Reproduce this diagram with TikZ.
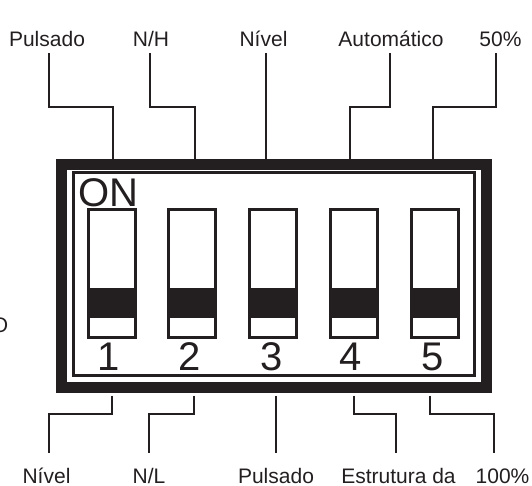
\documentclass[tikz,border=0pt]{standalone}
\usepackage{fontspec}
\setmainfont{Liberation Sans}
\definecolor{ink}{HTML}{231F20}
\tikzset{
    lead/.style={draw=ink, line width=2pt},
    label/.style={inner sep=0, anchor=base, text=ink, font=\fontsize{21}{21}\selectfont},
    bignum/.style={inner sep=0, anchor=base, text=ink, font=\fontsize{40}{40}\selectfont},
    toggle/.style={draw=ink, line width=3pt, fill=white, minimum width=47pt, minimum height=128pt, inner sep=0},
}
\begin{document}
\begin{tikzpicture}[x=1pt, y=-1pt]
    \useasboundingbox (0,0) rectangle (532,485);
    % housing
    \node (outer) [draw=ink, line width=11pt, minimum width=425pt, minimum height=223pt, inner sep=0] at (274,276) {};
    \node (inner) [draw=ink, line width=3.5pt, minimum width=401pt, minimum height=203pt, inner sep=0] at (274,274) {};
    \node (on) [bignum] at (108.5,206) {ON};
    % switches
    \foreach \name/\x/\txt/\numx in {s1/112/1/109, s2/192/2/190, s3/273/3/272, s4/354/4/351, s5/434.5/5/433} {
        \node (\name) [toggle] at (\x,273) {};
        \fill[ink] (\x-24.5,287.5) rectangle (\x+24.5,318);
        \node (num\name) [bignum] at (\numx,370) {\txt};
    }
    % top labels
    \node (tpuls) [label] at (47,46) {Pulsado};
    \node (tnh) [label] at (151,46) {N/H};
    \node (tniv) [label] at (263.5,46) {Nível};
    \node (taut) [label] at (391,46) {Automático};
    \node (tfif) [label] at (500.5,46) {50\%};
    % bottom labels
    \node (bniv) [label] at (46.5,483) {Nível};
    \node (bnl) [label] at (149,483) {N/L};
    \node (bpuls) [label] at (276,483) {Pulsado};
    \node (best) [label] at (398.5,483) {Estrutura da};
    \node (bhun) [label] at (502.5,483) {100\%};
    \node (cut) [label, anchor=base east] at (8.5,332) {O};
    % top leads
    \foreach \a/\top/\b in {tpuls/49/112.5, tnh/150/194.5, tniv/265.5/265.5, taut/389.5/349.5, tfif/496/433} {
        \coordinate (\a from) at (\top,53);
        \coordinate (\a to) at (\b,159);
        \draw[lead] (\a from) |- (\b,106.5) -- (\a to);
    }
    % bottom leads
    \foreach \a/\end/\b in {bniv/49/112, bnl/149/193.5, bpuls/276/276, best/395.5/354, bhun/494/429.5} {
        \coordinate (\a from) at (\b,395.5);
        \coordinate (\a to) at (\end,452.5);
        \draw[lead] (\a from) |- (\end,414) -- (\a to);
    }
\end{tikzpicture}
\end{document}
